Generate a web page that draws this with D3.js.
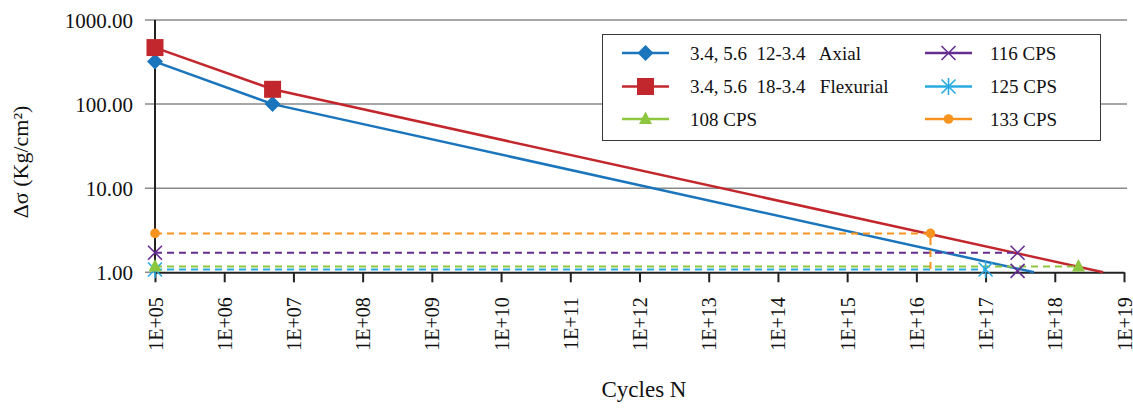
<!DOCTYPE html>
<html>
<head>
<meta charset="utf-8">
<script src="https://cdn.jsdelivr.net/npm/d3@7"></script>
</head>
<body style="margin:0">
<svg id="chart" width="1133" height="409"></svg>
<script>
// Decade ticks for both log axes
const xTickValues = [1e5, 1e6, 1e7, 1e8, 1e9, 1e10, 1e11, 1e12, 1e13, 1e14, 1e15, 1e16, 1e17, 1e18, 1e19];
const xTickLabels = ["1E+05", "1E+06", "1E+07", "1E+08", "1E+09", "1E+10", "1E+11", "1E+12", "1E+13", "1E+14", "1E+15", "1E+16", "1E+17", "1E+18", "1E+19"];
const yTickValues = [1, 10, 100, 1000];
const yTickLabels = ["1.00", "10.00", "100.00", "1000.00"];

// S-N curves (solid)
const axialN = [1e5, 5e6, 5e17];
const axialS = [320, 100, 1];
const flexN = [1e5, 5e6, 5e18];
const flexS = [470, 150, 1];

// Stress ranges of the individual members (dashed)
const cps108N = [1e5, 2.2e18];
const cps108S = [1.17, 1.17];
const cps116N = [1e5, 2.9e17];
const cps116S = [1.71, 1.71];
const cps116ExtraN = [2.9e17];
const cps116ExtraS = [1.04];
const cps125N = [1e5, 1e17];
const cps125S = [1.08, 1.08];
const cps133N = [1e5, 1.6e16, 1.6e16];
const cps133S = [2.9, 2.9, 1];
const cps133Marked = [true, true, false];

const legendLabels = ["3.4, 5.6  12-3.4   Axial", "3.4, 5.6  18-3.4   Flexurial", "108 CPS", "116 CPS", "125 CPS", "133 CPS"];

const C = {
  axial: "#1b75bc", flex: "#c1272d", c108: "#8dc63f",
  c116: "#662d91", c125: "#29abe2", c133: "#f7931e"
};
const FONT = '"Liberation Serif"';
const styleText = (sel, size) => sel.style("font-family", FONT).style("font-size", size + "px").attr("fill", "#111");

const svg = d3.select("#chart");
const x = d3.scaleLog().domain([1e5, 1e19]).range([155, 1124]);
const y = d3.scaleLog().domain([1, 1000]).range([272.3, 20]);

// Horizontal gridlines
svg.append("g").selectAll("line").data(yTickValues.filter(v => v !== 1)).join("line")
  .attr("x1", 145).attr("x2", 1127)
  .attr("y1", d => y(d)).attr("y2", d => y(d))
  .attr("stroke", "#8a8a8a").attr("stroke-width", 1.5);
// left tick stub on the bottom line
svg.append("line").attr("x1", 145).attr("x2", 155).attr("y1", y(1)).attr("y2", y(1))
  .attr("stroke", "#8a8a8a").attr("stroke-width", 1.5);

// Y axis
const yAxis = d3.axisLeft(y).tickValues(yTickValues)
  .tickFormat((d, i) => yTickLabels[i]).tickSize(0).tickPadding(22);
const gy = svg.append("g").attr("transform", "translate(155,0)").call(yAxis);
gy.attr("font-family", null).attr("font-size", null);
gy.select(".domain").remove();
styleText(gy.selectAll("text"), 21).attr("dy", "0.35em");

// X axis
const xAxis = d3.axisBottom(x).tickValues(xTickValues)
  .tickFormat((d, i) => xTickLabels[i]).tickSize(10).tickSizeOuter(0);
const gx = svg.append("g").attr("transform", `translate(0,${y(1)})`).call(xAxis);
gx.attr("font-family", null).attr("font-size", null);
gx.select(".domain").attr("stroke", "#222").attr("stroke-width", 2);
gx.selectAll(".tick line").attr("stroke", "#222").attr("stroke-width", 2);
styleText(gx.selectAll("text"), 20)
  .attr("transform", "rotate(-90)")
  .attr("text-anchor", "end")
  .attr("x", -25).attr("y", 0).attr("dy", "0.35em");

// Y axis line
svg.append("line").attr("x1", x(1e5)).attr("x2", x(1e5))
  .attr("y1", y(1000)).attr("y2", y(1))
  .attr("stroke", "#222").attr("stroke-width", 2);

const line = d3.line().x(d => x(d[0])).y(d => y(d[1]));
const zip = (a, b) => a.map((v, i) => [v, b[i]]);

// Solid S-N curves
const solid = [
  { pts: zip(axialN, axialS), color: C.axial },
  { pts: zip(flexN, flexS), color: C.flex }
];
svg.append("g").selectAll("path").data(solid).join("path")
  .attr("d", d => line(d.pts)).attr("fill", "none")
  .attr("stroke", d => d.color).attr("stroke-width", 2.5);

// Dashed member lines
const dashed = [
  { pts: zip(cps125N, cps125S), color: C.c125 },
  { pts: zip(cps108N, cps108S), color: C.c108 },
  { pts: zip(cps116N, cps116S), color: C.c116 },
  { pts: zip(cps133N, cps133S), color: C.c133 }
];
svg.append("g").selectAll("path").data(dashed).join("path")
  .attr("d", d => line(d.pts)).attr("fill", "none")
  .attr("stroke", d => d.color).attr("stroke-width", 2)
  .attr("stroke-dasharray", "7,5");

// Marker shapes
function drawMarker(g, type, cx, cy, color) {
  if (type === "diamond") {
    const s = 8;
    g.append("path").attr("d", `M${cx},${cy - s}L${cx + s},${cy}L${cx},${cy + s}L${cx - s},${cy}Z`).attr("fill", color);
  } else if (type === "square") {
    const s = 8.5;
    g.append("rect").attr("x", cx - s).attr("y", cy - s).attr("width", 2 * s).attr("height", 2 * s).attr("fill", color);
  } else if (type === "triangle") {
    g.append("path").attr("d", `M${cx},${cy - 7.5}L${cx + 6.5},${cy + 5}L${cx - 6.5},${cy + 5}Z`).attr("fill", color);
  } else if (type === "circle") {
    g.append("circle").attr("cx", cx).attr("cy", cy).attr("r", 4.8).attr("fill", color);
  } else if (type === "x") {
    const s = 7;
    g.append("path").attr("d", `M${cx - s},${cy - s}L${cx + s},${cy + s}M${cx - s},${cy + s}L${cx + s},${cy - s}`)
      .attr("stroke", color).attr("stroke-width", 1.6).attr("fill", "none");
  } else if (type === "star") {
    const s = 7;
    g.append("path").attr("d", `M${cx - s},${cy - s}L${cx + s},${cy + s}M${cx - s},${cy + s}L${cx + s},${cy - s}M${cx},${cy - s * 1.2}L${cx},${cy + s * 1.2}`)
      .attr("stroke", color).attr("stroke-width", 1.6).attr("fill", "none");
  }
}

const markers = svg.append("g");
const addMarkers = (ns, ss, type, color, keep) =>
  ns.forEach((n, i) => { if (!keep || keep[i]) drawMarker(markers, type, x(n), y(ss[i]), color); });

addMarkers(cps125N, cps125S, "star", C.c125);
addMarkers(cps108N, cps108S, "triangle", C.c108);
addMarkers(cps116N, cps116S, "x", C.c116);
addMarkers(cps116ExtraN, cps116ExtraS, "x", C.c116);
addMarkers(cps133N, cps133S, "circle", C.c133, cps133Marked);
addMarkers(axialN.slice(0, 2), axialS.slice(0, 2), "diamond", C.axial);
addMarkers(flexN.slice(0, 2), flexS.slice(0, 2), "square", C.flex);

// Legend
const legend = svg.append("g");
legend.append("rect").attr("x", 602.5).attr("y", 34.5).attr("width", 498).attr("height", 106)
  .attr("fill", "#fff").attr("stroke", "#3a3a3a").attr("stroke-width", 1);
const legendItems = [
  { type: "diamond", color: C.axial, col: 0, row: 0 },
  { type: "square", color: C.flex, col: 0, row: 1 },
  { type: "triangle", color: C.c108, col: 0, row: 2 },
  { type: "x", color: C.c116, col: 1, row: 0 },
  { type: "star", color: C.c125, col: 1, row: 1 },
  { type: "circle", color: C.c133, col: 1, row: 2 }
];
const colX = [622, 925];
const colTextX = [690, 990];
const rowY = [53, 86.5, 119];
legendItems.forEach((it, i) => {
  const lx = colX[it.col], ly = rowY[it.row];
  legend.append("line").attr("x1", lx).attr("x2", lx + 47).attr("y1", ly).attr("y2", ly)
    .attr("stroke", it.color).attr("stroke-width", 2.5);
  drawMarker(legend, it.type, lx + 23.5, ly, it.color);
  styleText(legend.append("text"), 19).attr("x", colTextX[it.col]).attr("y", ly).attr("dy", "0.35em")
    .style("white-space", "pre")
    .text(legendLabels[i]);
});

// Axis titles
styleText(svg.append("text"), 22).attr("transform", "translate(28,162) rotate(-90)")
  .attr("text-anchor", "middle").text("Δσ (Kg/cm²)");
styleText(svg.append("text"), 23).attr("x", 644).attr("y", 397)
  .attr("text-anchor", "middle").text("Cycles N");
</script>
</body>
</html>
